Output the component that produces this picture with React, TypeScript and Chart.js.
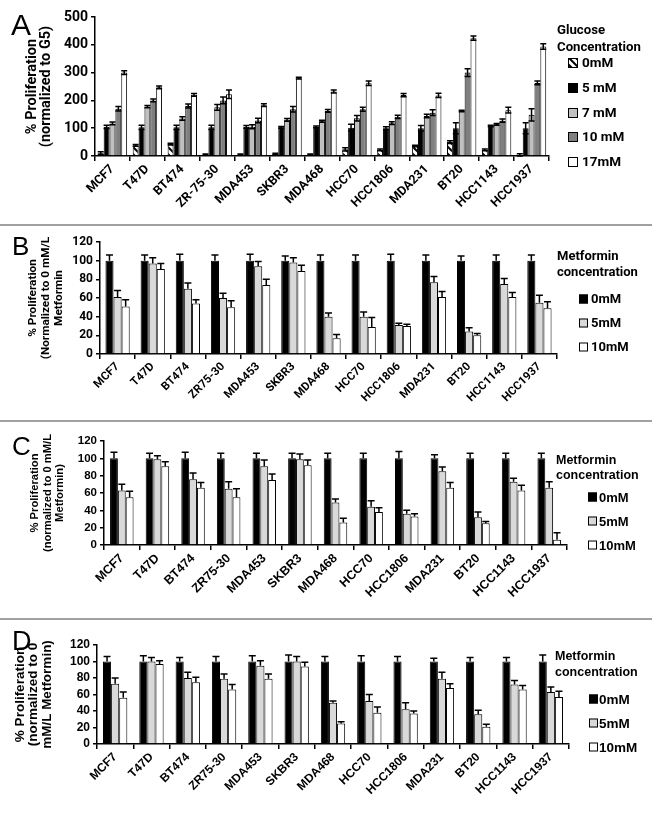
import React, { useEffect, useRef } from 'react';
import { Chart, registerables } from 'chart.js';
Chart.register(...registerables);

// ---------- DATA ----------
const cellLinesA = ['MCF7', 'T47D', 'BT474', 'ZR-75-30', 'MDA453', 'SKBR3', 'MDA468', 'HCC70', 'HCC1806', 'MDA231', 'BT20', 'HCC1143', 'HCC1937'];
const cellLinesM = ['MCF7', 'T47D', 'BT474', 'ZR75-30', 'MDA453', 'SKBR3', 'MDA468', 'HCC70', 'HCC1806', 'MDA231', 'BT20', 'HCC1143', 'HCC1937'];

const glucoseLabels = ['0mM', '5 mM', '7 mM', '10 mM', '17mM'];
const gluc0 = [10, 38, 43, 5, 5, 8, 5, 24, 22, 36, 50, 22, 4];
const gluc5 = [105, 103, 103, 103, 105, 103, 105, 102, 100, 100, 100, 108, 100];
const gluc7 = [117, 178, 135, 175, 105, 130, 125, 136, 118, 144, 162, 114, 148];
const gluc10 = [170, 200, 180, 200, 128, 168, 162, 168, 141, 156, 300, 127, 263];
const gluc17 = [300, 247, 220, 222, 183, 280, 232, 262, 219, 218, 424, 165, 394];
const gluc0Err = [5, 3, 3, 2, 2, 2, 2, 6, 3, 3, 5, 3, 4];
const gluc5Err = [6, 8, 8, 8, 5, 3, 3, 12, 5, 10, 20, 3, 20];
const gluc7Err = [5, 4, 6, 10, 7, 5, 4, 10, 5, 6, 3, 3, 22];
const gluc10Err = [8, 5, 7, 12, 8, 10, 5, 7, 6, 10, 14, 6, 7];
const gluc17Err = [7, 5, 5, 15, 5, 3, 5, 8, 6, 8, 8, 10, 10];

const metLabels = ['0mM', '5mM', '10mM'];
const metB0 = [100, 100, 100, 100, 100, 100, 100, 100, 100, 100, 100, 100, 100];
const metB5 = [61, 97, 70, 60, 94, 98, 40, 40, 31, 77, 24, 75, 55];
const metB10 = [51, 91, 54, 50, 74, 89, 17, 29, 30, 61, 20, 61, 49];
const metB0Err = [6, 6, 7, 6, 7, 5, 6, 6, 7, 6, 5, 6, 6];
const metB5Err = [7, 6, 6, 5, 5, 5, 4, 5, 2, 6, 4, 6, 8];
const metB10Err = [7, 6, 4, 7, 6, 6, 4, 10, 2, 6, 2, 5, 7];

const metC0 = [100, 100, 100, 100, 100, 100, 100, 100, 100, 100, 100, 100, 100];
const metC5 = [63, 99, 76, 65, 91, 99, 49, 44, 36, 85, 32, 73, 66];
const metC10 = [55, 91, 66, 55, 75, 92, 26, 38, 33, 66, 25, 63, 6];
const metC0Err = [7, 6, 7, 6, 6, 6, 6, 6, 8, 4, 6, 6, 6];
const metC5Err = [7, 4, 7, 8, 7, 6, 4, 7, 4, 5, 6, 4, 7];
const metC10Err = [7, 5, 6, 10, 7, 6, 5, 5, 3, 6, 2, 6, 8];

const metD0 = [100, 100, 100, 100, 100, 100, 100, 100, 100, 100, 100, 100, 100];
const metD5 = [73, 100, 80, 79, 95, 100, 50, 52, 42, 79, 36, 72, 63];
const metD10 = [56, 97, 75, 66, 79, 94, 25, 38, 37, 68, 21, 66, 57];
const metD0Err = [6, 7, 5, 6, 7, 8, 6, 7, 6, 4, 5, 5, 8];
const metD5Err = [7, 5, 7, 6, 6, 6, 2, 8, 8, 8, 5, 5, 6];
const metD10Err = [7, 4, 6, 6, 6, 5, 2, 7, 3, 5, 3, 5, 7];

const ticksA = { max: 500, step: 100 };
const ticksM = { max: 120, step: 20 };

// ---------- helpers ----------
function makeHatch(ctx: CanvasRenderingContext2D): CanvasPattern | string {
  const c = document.createElement('canvas');
  const s = 7;
  c.width = s; c.height = s;
  const g = c.getContext('2d');
  if (!g) return '#fff';
  g.fillStyle = '#fff';
  g.fillRect(0, 0, s, s);
  g.strokeStyle = '#000';
  g.lineWidth = 2;
  g.beginPath();
  g.moveTo(0, 0); g.lineTo(s, s);
  g.moveTo(-s, 0); g.lineTo(s, 2 * s);
  g.moveTo(0, -s); g.lineTo(2 * s, s);
  g.stroke();
  return ctx.createPattern(c, 'repeat') || '#fff';
}

const errorBarPlugin = {
  id: 'errorBars',
  afterDatasetsDraw(chart: any, _a: any, opts: any) {
    const ctx = chart.ctx;
    const ys = chart.scales.y;
    ctx.save();
    ctx.strokeStyle = '#000';
    ctx.lineWidth = 1.5;
    chart.data.datasets.forEach((ds: any, di: number) => {
      const meta = chart.getDatasetMeta(di);
      const errs: number[] = ds.errors;
      if (!errs) return;
      meta.data.forEach((el: any, i: number) => {
        const v = ds.data[i];
        const e = errs[i];
        const x = el.x;
        const yt = ys.getPixelForValue(v + e);
        const yb = opts.both ? ys.getPixelForValue(Math.max(0, v - e)) : ys.getPixelForValue(v);
        const hw = opts.capW / 2;
        ctx.beginPath();
        ctx.moveTo(x, yt); ctx.lineTo(x, yb);
        ctx.moveTo(x - hw, yt); ctx.lineTo(x + hw, yt);
        if (opts.both) { ctx.moveTo(x - hw, yb); ctx.lineTo(x + hw, yb); }
        ctx.stroke();
      });
    });
    ctx.restore();
  },
};

const decorPlugin = {
  id: 'decor',
  afterDraw(chart: any, _a: any, o: any) {
    const ctx = chart.ctx;
    ctx.save();
    ctx.fillStyle = '#000';
    ctx.textAlign = 'left';
    ctx.textBaseline = 'alphabetic';
    ctx.font = `normal ${o.letterSize}px "Liberation Sans", Arial, sans-serif`;
    ctx.fillText(o.letter, o.letterX, o.letterY);
    ctx.textBaseline = 'middle';
    ctx.font = `bold ${o.titleSize}px ${o.family}`;
    o.legendTitle.forEach((t: string, i: number) => ctx.fillText(t, o.titleX, o.titleYs[i]));
    ctx.font = `bold ${o.itemSize}px ${o.family}`;
    chart.data.datasets.forEach((ds: any, i: number) => {
      const y = o.itemYs[i];
      const b = o.boxSize;
      ctx.fillStyle = ds.backgroundColor;
      ctx.fillRect(o.boxX, y - b / 2, b, b);
      ctx.strokeStyle = '#000';
      ctx.lineWidth = 1;
      ctx.strokeRect(o.boxX + 0.5, y - b / 2 + 0.5, b - 1, b - 1);
      ctx.fillStyle = '#000';
      ctx.fillText(ds.label, o.textX, y + 1);
    });
    ctx.restore();
  },
};

type Series = { label: string; data: number[]; err: number[]; color: string | 'hatch' };
type PanelCfg = {
  top: number; height: number;
  labels: string[]; series: Series[];
  yMax: number; yStep: number;
  area: { left: number; right: number; top: number; bottom: number };
  family: string; yTickSize: number; xTickSize: number;
  yTitle: string[]; yTitleSize: number; yTitleLH: number; yTitleX: number;
  catPct: number; barPct: number; bothErr: boolean; capW: number;
  letter: string; letterSize: number; letterX: number; letterY: number;
  legendTitle: string[]; titleX: number; titleYs: number[]; titleSize: number;
  boxX: number; boxSize: number; textX: number; itemYs: number[]; itemSize: number;
};

const ROBOTO = 'Roboto, "Open Sans", sans-serif';
const ARIAL = '"Liberation Sans", Arial, sans-serif';

const panels: PanelCfg[] = [
  {
    top: 0, height: 224, labels: cellLinesA,
    series: [
      { label: glucoseLabels[0], data: gluc0, err: gluc0Err, color: 'hatch' },
      { label: glucoseLabels[1], data: gluc5, err: gluc5Err, color: '#000000' },
      { label: glucoseLabels[2], data: gluc7, err: gluc7Err, color: '#c0c0c0' },
      { label: glucoseLabels[3], data: gluc10, err: gluc10Err, color: '#7f7f7f' },
      { label: glucoseLabels[4], data: gluc17, err: gluc17Err, color: '#ffffff' },
    ],
    yMax: ticksA.max, yStep: ticksA.step,
    area: { left: 95, right: 549, top: 17, bottom: 156 },
    family: ROBOTO, yTickSize: 14, xTickSize: 12.5,
    yTitle: ['% Proliferation', '(normalized to G5)'], yTitleSize: 14.5, yTitleLH: 1.0, yTitleX: 32,
    catPct: 0.84, barPct: 1.0, bothErr: true, capW: 6,
    letter: 'A', letterSize: 30, letterX: 11, letterY: 35,
    legendTitle: ['Glucose', 'Concentration'], titleX: 557, titleYs: [31, 48], titleSize: 13.2,
    boxX: 568, boxSize: 10, textX: 582, itemYs: [63, 88, 113, 137, 162], itemSize: 13.5,
  },
  {
    top: 226, height: 194, labels: cellLinesM,
    series: [
      { label: metLabels[0], data: metB0, err: metB0Err, color: '#000000' },
      { label: metLabels[1], data: metB5, err: metB5Err, color: '#d9d9d9' },
      { label: metLabels[2], data: metB10, err: metB10Err, color: '#ffffff' },
    ],
    yMax: ticksM.max, yStep: ticksM.step,
    area: { left: 100, right: 557, top: 242, bottom: 354 },
    family: ROBOTO, yTickSize: 12, xTickSize: 11.5,
    yTitle: ['% Proliferation', '(Normalized to 0 mM/L', 'Metformin'], yTitleSize: 11.8, yTitleLH: 1.1, yTitleX: 33,
    catPct: 0.69, barPct: 1.0, bothErr: false, capW: 7,
    letter: 'B', letterSize: 26, letterX: 12, letterY: 255,
    legendTitle: ['Metformin', 'concentration'], titleX: 557, titleYs: [257, 273], titleSize: 13,
    boxX: 579, boxSize: 9, textX: 591, itemYs: [299, 323, 347], itemSize: 13,
  },
  {
    top: 422, height: 196, labels: cellLinesM,
    series: [
      { label: metLabels[0], data: metC0, err: metC0Err, color: '#000000' },
      { label: metLabels[1], data: metC5, err: metC5Err, color: '#d9d9d9' },
      { label: metLabels[2], data: metC10, err: metC10Err, color: '#ffffff' },
    ],
    yMax: ticksM.max, yStep: ticksM.step,
    area: { left: 104, right: 567, top: 441, bottom: 545 },
    family: ARIAL, yTickSize: 11.5, xTickSize: 12.5,
    yTitle: ['% Proliferation', '(normalized to 0 mM/L', 'Metformin)'], yTitleSize: 11.2, yTitleLH: 1.12, yTitleX: 35,
    catPct: 0.66, barPct: 1.0, bothErr: false, capW: 7,
    letter: 'C', letterSize: 26, letterX: 12, letterY: 455,
    legendTitle: ['Metformin', 'concentration'], titleX: 556, titleYs: [461, 476], titleSize: 12.5,
    boxX: 588, boxSize: 9, textX: 599, itemYs: [497, 521, 545], itemSize: 13,
  },
  {
    top: 620, height: 198, labels: cellLinesM,
    series: [
      { label: metLabels[0], data: metD0, err: metD0Err, color: '#000000' },
      { label: metLabels[1], data: metD5, err: metD5Err, color: '#d9d9d9' },
      { label: metLabels[2], data: metD10, err: metD10Err, color: '#ffffff' },
    ],
    yMax: ticksM.max, yStep: ticksM.step,
    area: { left: 97, right: 569, top: 645, bottom: 744 },
    family: ARIAL, yTickSize: 12, xTickSize: 12,
    yTitle: ['% Proliferation', '(normalized to 0', 'mM/L Metformin)'], yTitleSize: 13.5, yTitleLH: 1.0, yTitleX: 20,
    catPct: 0.67, barPct: 1.0, bothErr: false, capW: 7,
    letter: 'D', letterSize: 27, letterX: 12, letterY: 650,
    legendTitle: ['Metformin', 'concentration'], titleX: 555, titleYs: [657, 673], titleSize: 12.5,
    boxX: 589, boxSize: 9, textX: 599, itemYs: [699, 723, 747], itemSize: 13.5,
  },
];

function Panel({ cfg }: { cfg: PanelCfg }) {
  const ref = useRef<HTMLCanvasElement | null>(null);
  useEffect(() => {
    const canvas = ref.current;
    if (!canvas) return;
    const ctx = canvas.getContext('2d');
    if (!ctx) return;
    const hatch = makeHatch(ctx);
    const t = cfg.top;
    const areaTop = cfg.area.top - t;
    const areaBottom = cfg.area.bottom - t;
    const xH = cfg.height - areaBottom;
    const lh = cfg.yTitleSize * cfg.yTitleLH;
    const chart = new Chart(ctx, {
      type: 'bar',
      data: {
        labels: cfg.labels,
        datasets: cfg.series.map((s) => ({
          label: s.label,
          data: s.data,
          errors: s.err,
          backgroundColor: s.color === 'hatch' ? hatch : s.color,
          borderColor: '#000',
          borderWidth: 1,
          categoryPercentage: cfg.catPct,
          barPercentage: cfg.barPct,
        })) as any,
      },
      options: {
        responsive: false,
        animation: false,
        layout: { padding: { left: 0, right: 652 - cfg.area.right, top: areaTop, bottom: 0 } },
        plugins: {
          legend: { display: false },
          tooltip: { enabled: false },
          errorBars: { both: cfg.bothErr, capW: cfg.capW },
          decor: {
            family: cfg.family,
            letter: cfg.letter, letterSize: cfg.letterSize, letterX: cfg.letterX, letterY: cfg.letterY - t,
            legendTitle: cfg.legendTitle, titleX: cfg.titleX, titleYs: cfg.titleYs.map((v) => v - t), titleSize: cfg.titleSize,
            boxX: cfg.boxX, boxSize: cfg.boxSize, textX: cfg.textX, itemYs: cfg.itemYs.map((v) => v - t), itemSize: cfg.itemSize,
          },
        } as any,
        scales: {
          x: {
            type: 'category',
            offset: true,
            grid: { display: true, offset: true, drawOnChartArea: false, drawTicks: true, tickLength: 5, color: '#000', lineWidth: 1.5 },
            border: { display: true, color: '#000', width: 1.5 },
            ticks: {
              autoSkip: false, maxRotation: 45, minRotation: 45, padding: 1, color: '#000',
              font: { family: cfg.family, size: cfg.xTickSize, weight: 'bold' },
            },
            afterFit: (s: any) => { s.height = xH; },
          },
          y: {
            min: 0, max: cfg.yMax,
            ticks: { stepSize: cfg.yStep, autoSkip: false, padding: 3, color: '#000', font: { family: cfg.family, size: cfg.yTickSize, weight: 'bold' } },
            grid: { drawOnChartArea: false, drawTicks: true, tickLength: 4, color: '#000', lineWidth: 1.5 },
            border: { display: true, color: '#000', width: 1.5 },
            title: {
              display: true, text: cfg.yTitle, color: '#000',
              font: { family: cfg.family, size: cfg.yTitleSize, weight: 'bold', lineHeight: cfg.yTitleLH },
              padding: { top: cfg.yTitleX - lh / 2, bottom: 0 },
            },
            afterFit: (s: any) => { s.width = cfg.area.left; },
          },
        } as any,
      },
      plugins: [errorBarPlugin, decorPlugin] as any,
    });
    return () => chart.destroy();
  }, [cfg]);
  return (
    <canvas
      ref={ref}
      width={652}
      height={cfg.height}
      style={{ position: 'absolute', left: 0, top: cfg.top, width: 652, height: cfg.height }}
    />
  );
}

const separators = [224, 420, 618];

export default function App() {
  return (
    <div style={{ position: 'absolute', left: 0, top: 0, width: 652, height: 818, background: '#fff', overflow: 'hidden' }}>
      {panels.map((p, i) => <Panel key={i} cfg={p} />)}
      {separators.map((y, i) => (
        <div key={'s' + i} style={{ position: 'absolute', left: 0, top: y, width: 652, height: 2, background: '#a0a0a0' }} />
      ))}
    </div>
  );
}
